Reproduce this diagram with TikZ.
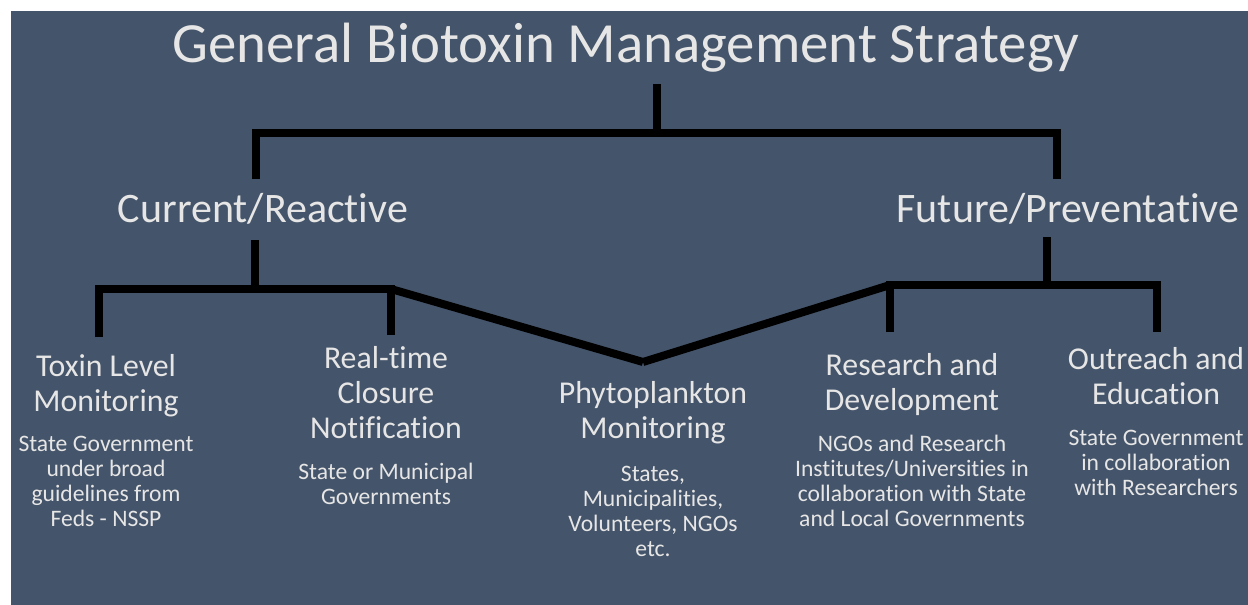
\documentclass[tikz,border=0pt]{standalone}
\usepackage{fontspec}
\setmainfont{Carlito}[Ligatures=NoCommon]
\definecolor{slate}{HTML}{44546A}
\definecolor{ink}{HTML}{E7E6E6}

\newcommand{\lines}[1]{\begin{tabular}[t]{@{}c@{}}#1\end{tabular}}

\begin{document}
\begin{tikzpicture}[x=1pt,y=-1pt,
  bar/.style={line width=8pt, line join=miter, draw=black},
  label/.style={text=ink, inner sep=0pt, anchor=base},
  titletext/.style={label, font=\fontsize{56.8}{60}\selectfont},
  branchtext/.style={label, font=\fontsize{42}{46}\selectfont},
  itemtext/.style={label, font=\fontsize{31.8}{35}\selectfont},
  notetext/.style={label, font=\fontsize{23.6}{25.3}\selectfont}]

  % canvas
  \fill[white] (0,0) rectangle (1248,605);
  \fill[slate] (11,11) rectangle (1248,605);
  \useasboundingbox (0,0) rectangle (1248,605);

  % texts
  \node[titletext] (title) at (626,62) {General Biotoxin Management Strategy};

  \node[branchtext] (current) at (263,222) {Current/Reactive};
  \node[branchtext] (future) at (1068,222) {Future/Preventative};

  \node[itemtext] (toxin) at (106,376) {\lines{Toxin Level\\Monitoring}};
  \node[notetext] (toxinnote) at (106,451) {\lines{State Government\\under broad\\guidelines from\\Feds - NSSP}};

  \node[itemtext] (closure) at (386,368) {\lines{Real-time\\Closure\\Notification}};
  \node[notetext] (closurenote) at (386,479) {\lines{State or Municipal\\Governments}};

  \node[itemtext] (phyto) at (653,403) {\lines{Phytoplankton\\Monitoring}};
  \node[notetext] (phytonote) at (653,481) {\lines{States,\\Municipalities,\\Volunteers, NGOs\\etc.}};

  \node[itemtext] (research) at (912,375) {\lines{Research and\\Development}};
  \node[notetext] (researchnote) at (912,451) {\lines{NGOs and Research\\Institutes/Universities in\\collaboration with State\\and Local Governments}};

  \node[itemtext] (outreach) at (1156,369) {\lines{Outreach and\\Education}};
  \node[notetext] (outreachnote) at (1156,445) {\lines{State Government\\in collaboration\\with Researchers}};

  % junction points of the tree
  \coordinate (titlestem) at (657,84);
  \coordinate (titlejoin) at (657,133);
  \coordinate (leftdrop) at (256,179);
  \coordinate (leftcorner) at (256,133);
  \coordinate (rightcorner) at (1057,133);
  \coordinate (rightdrop) at (1057,179);

  \coordinate (curstem) at (255,240);
  \coordinate (curjoin) at (255,289);
  \coordinate (toxindrop) at (99,337);
  \coordinate (toxincorner) at (99,289);
  \coordinate (closurecorner) at (391,289);
  \coordinate (closuredrop) at (391,335);
  \coordinate (phytotip) at (643,362);

  \coordinate (futstem) at (1047,237);
  \coordinate (futjoin) at (1047,285);
  \coordinate (researchdrop) at (890,332);
  \coordinate (researchcorner) at (890,285);
  \coordinate (outreachcorner) at (1157,285);
  \coordinate (outreachdrop) at (1157,332);

  % top level
  \draw[bar] (titlestem) -- (titlejoin);
  \draw[bar] (leftdrop) -- (leftcorner) -- (rightcorner) -- (rightdrop);

  % current / reactive branch
  \draw[bar] (curstem) -- (curjoin);
  \draw[bar] (toxindrop) -- (toxincorner) -- (closurecorner) -- (closuredrop);
  \draw[bar] (closurecorner) -- (phytotip);

  % future / preventative branch
  \draw[bar] (futstem) -- (futjoin);
  \draw[bar] (researchdrop) -- (researchcorner) -- (outreachcorner) -- (outreachdrop);
  \draw[bar] (phytotip) -- (researchcorner);
\end{tikzpicture}
\end{document}
